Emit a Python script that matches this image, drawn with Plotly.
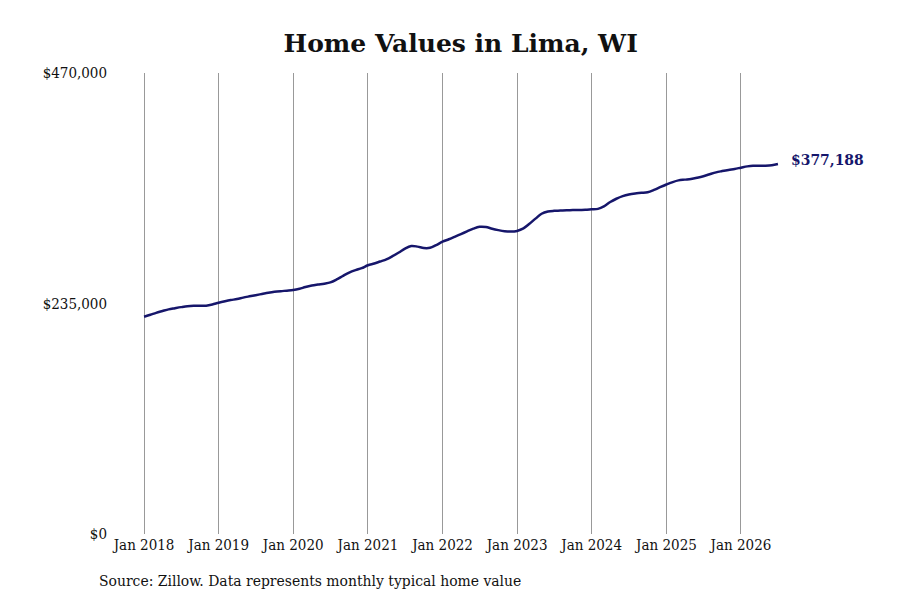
import pandas as pd
import plotly.graph_objects as go

# monthly typical home value, Jan 2018 .. Jul 2026
DATES = pd.date_range("2018-01-01", "2026-07-01", freq="MS")
VALUES = [
    221500, 223500, 225500, 227300, 229000, 230200, 231300, 232300, 232700, 232600, 232800, 234000,
    235800, 237300, 238500, 239500, 241000, 242300, 243500, 244700, 245900, 246900, 247600, 248100,
    248700, 250000, 251800, 253300, 254300, 255200, 256500, 259500, 263200, 266500, 269000, 271000,
    274000, 275800, 277800, 280000, 283200, 287000, 291000, 293600, 293000, 291600, 291800, 294600,
    298000, 300500, 303000, 305800, 308500, 311300, 313200, 313000, 311200, 309800, 308700, 308300,
    309000, 311500, 316000, 321500, 326500, 328800, 329500, 329700, 330000, 330200, 330400, 330500,
    331000, 331500, 334000, 338500, 341800, 344500, 346200, 347200, 347800, 348500, 350800, 353600,
    356300, 358800, 360500, 361300, 362000, 363300, 364800, 366800, 368700, 370000, 371200, 372200,
    373500, 374800, 375400, 375400, 375500, 376000, 377188,
]
Y_TICKS = [0, 235000, 470000]
X_TICKS = pd.date_range("2018-01-01", "2026-01-01", freq="YS")

LINE_COLOR = "#16166b"
FONT = "DejaVu Serif Condensed, DejaVu Serif, serif"

fig = go.Figure()
fig.add_trace(go.Scatter(x=DATES, y=VALUES, mode="lines",
                         line=dict(color=LINE_COLOR, width=2.5, shape="spline"),
                         hoverinfo="skip", showlegend=False))

fig.add_annotation(x=DATES[-1], y=VALUES[-1], text="<b>${:,}</b>".format(VALUES[-1]),
                   showarrow=False, xanchor="left", xshift=11, yshift=5,
                   font=dict(family=FONT, size=15.5, color=LINE_COLOR))
fig.add_annotation(x=-0.0222, y=-0.102, xref="paper", yref="paper",
                   text="Source: Zillow. Data represents monthly typical home value",
                   showarrow=False, xanchor="left", yanchor="middle",
                   font=dict(family=FONT, size=15.5, color="#111"))

fig.update_layout(
    width=900, height=600,
    margin=dict(l=104, r=118, t=65, b=74),
    paper_bgcolor="white", plot_bgcolor="white",
    title=dict(text="<b>Home Values in Lima, WI</b>", x=0.503, xanchor="center",
               y=0.9417, yanchor="middle",
               font=dict(family="DejaVu Serif, serif", size=25, color="#111")),
    font=dict(family=FONT, size=15, color="#111"),
    xaxis=dict(range=["2017-07-28", "2026-08-29"], tickvals=X_TICKS,
               ticktext=[d.strftime("Jan %Y") for d in X_TICKS],
               showgrid=True, gridcolor="#999999", gridwidth=1,
               zeroline=False, showline=False, ticks=""),
    yaxis=dict(range=[0, 470000], tickvals=Y_TICKS,
               ticktext=["${:,}".format(v) for v in Y_TICKS],
               showgrid=False, zeroline=False, showline=False, ticks="",
               ticklabelstandoff=4),
)

fig.write_html("out.html")
